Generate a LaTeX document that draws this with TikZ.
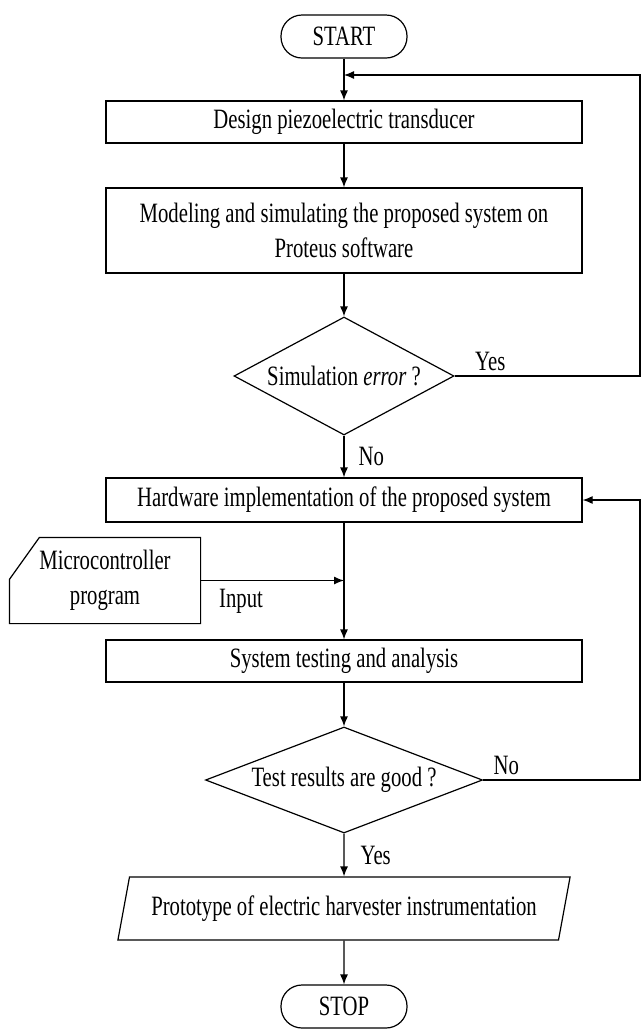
\documentclass[tikz,border=0pt]{standalone}
\usepackage{fontspec}
\setmainfont{Liberation Serif}[FakeStretch=0.74]
\usetikzlibrary{positioning,shapes.geometric,arrows.meta}
\tikzset{>={Latex[length=10pt,width=8pt]}}
\newcommand{\flowfont}{\fontsize{28}{35}\selectfont}

\begin{document}
\begin{tikzpicture}[x=1pt, y=1pt, line width=1.2pt,
    every node/.style={font=\flowfont},
    terminal/.style={draw, rounded corners=21pt, minimum width=126pt, minimum height=43pt, inner sep=0pt},
    process/.style={draw, rectangle, minimum width=476pt, inner sep=0pt},
    decision/.style={draw, diamond, inner sep=0pt},
    tag/.style={inner sep=2pt}]
      \useasboundingbox (0,0) rectangle (643,-1029);
      \node[terminal] (n0) at (344,-36.5) {START};
      \node[process, minimum height=42pt, below of=n0, node distance=85.5pt] (n1) {Design piezoelectric transducer};
      \node[process, minimum height=85pt, align=center, below of=n1, node distance=108.5pt] (n2) {Modeling and simulating the proposed system on\\Proteus software};
      \node[decision, aspect=1.86, minimum width=220pt, minimum height=118pt, below of=n2, node distance=145.5pt] (n3) {Simulation \textit{error} ?};
      \node[process, minimum height=44pt, below of=n3, node distance=124pt] (n4) {Hardware implementation of the proposed system};
      \node[rectangle, minimum width=190pt, minimum height=85pt, align=center, inner sep=0pt] (n5) at (105,-580.5) {Microcontroller\\program};
      \node[process, minimum height=42pt, below of=n4, node distance=161pt] (n6) {System testing and analysis};
      \node[decision, aspect=2.61, minimum width=277pt, minimum height=106pt, below of=n6, node distance=119pt] (n7) {Test results are good ?};
      \node[draw, trapezium, trapezium left angle=68, trapezium right angle=112, trapezium stretches, minimum width=453pt, minimum height=63pt, inner sep=0pt, below of=n7, node distance=128.5pt] (n8) {Prototype of electric harvester instrumentation};
      \node[terminal, below of=n8, node distance=98pt] (n9) {STOP};
      % cut corner of the program box
      \draw ([xshift=30pt]n5.north west) -- (n5.north east) -- (n5.south east) -- (n5.south west) -- ([yshift=-42pt]n5.north west) -- cycle;
      \coordinate[below of=n0, node distance=38.5pt] (m1);
      \coordinate[right of=m1, node distance=296pt] (c1);
      \coordinate[right of=n7, node distance=296pt] (c2);
      \coordinate (inp) at (n4.south |- n5.east);
      \draw[->] (n0) -- (n1);
      \draw[->] (n1) -- (n2);
      \draw[->] (n2) -- (n3);
      \draw[->] (n3.east) -| (c1) -- (m1);
      \node[tag, above right=3pt and 18pt of n3.east] (l1) {Yes};
      \draw[->] (n3) -- node[tag, right, xshift=12pt] (l2) {No} (n4);
      \draw[->] (n5.east) -- (inp);
      \node[tag, below right=6pt and 16pt of n5.east] (l3) {Input};
      \draw[->] (n4) -- (n6);
      \draw[->] (n6) -- (n7);
      \draw[->] (n7.east) -- (c2) |- (n4.east);
      \node[tag, above right=3pt and 8pt of n7.east] (l4) {No};
      \draw[->] (n7) -- node[tag, right, xshift=14pt] (l5) {Yes} (n8);
      \draw[->] (n8) -- (n9);
    \end{tikzpicture}
\end{document}
